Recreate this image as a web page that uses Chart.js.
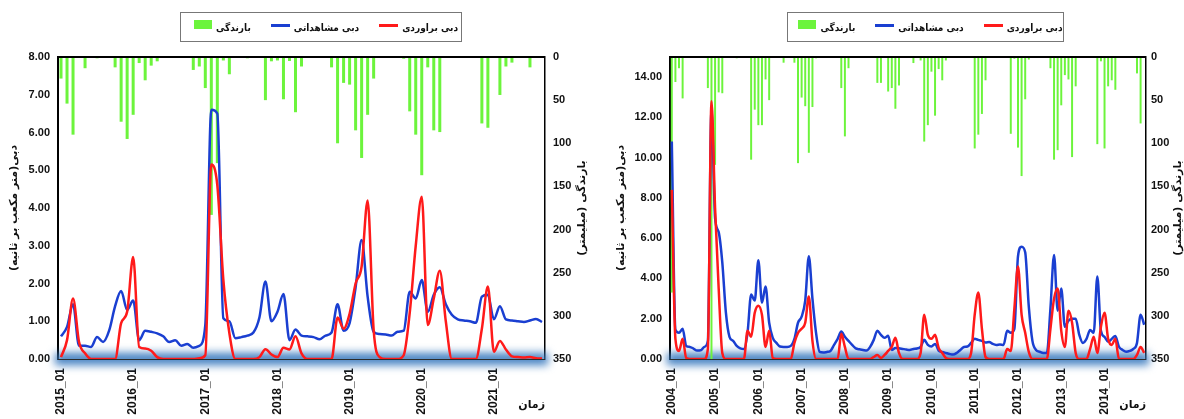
<!DOCTYPE html>
<html>
<head>
<meta charset="utf-8">
<script src="https://cdn.jsdelivr.net/npm/chart.js@4.4.1/dist/chart.umd.min.js"></script>
<style>
body{margin:0;background:#fff;width:1184px;height:419px;overflow:hidden;position:relative}
.panel{position:absolute;top:0;width:592px;height:419px}
.legend{position:absolute;top:12px;height:30px;border:1px solid #777;box-sizing:border-box;display:flex;align-items:center;justify-content:center;gap:20px;padding-left:10px;font:bold 10px 'DejaVu Sans Condensed','DejaVu Sans',sans-serif;font-stretch:condensed;color:#111;white-space:nowrap}
.item{display:flex;align-items:center;gap:4px}
.sw-bar{display:inline-block;width:18px;height:9px;margin-top:-6px}
.sw-line{display:inline-block;width:19px;height:3px;margin-top:-4px}
</style>
</head>
<body>
<div class="panel" style="left:0"><canvas id="chartA" width="592" height="419"></canvas><div class="legend" id="legendA" style="left:180px;width:282px"></div></div>
<div class="panel" style="left:592px"><canvas id="chartB" width="592" height="419"></canvas><div class="legend" id="legendB" style="left:195px;width:277px"></div></div>
<script>
// series
const seriesNames = ['بارندگی', 'دبی مشاهداتی', 'دبی براوردی'];
const seriesColors = ['#6cf43c', '#1a3fd1', '#ff1a1a'];
const flowTitle = 'دبی(متر مکعب بر ثانیه)';
const rainTitle = 'بارندگی (میلیمتر)';
const timeTitle = 'زمان';

// left panel: 2015_01 .. 2021_09
const startA = 2015;
const rainA = [25,54,90,0,13,0,1.5,0,0.5,12, 75,95,67,7,27,10,5,0,0,0.5,
  0,0,15,11,36,183,123,4,20,0, 0,1.5,0,0,50,5,4,49,4.6,64,
  11,0,0,0,0.5,12,100,30,32,85, 117,67,25,0,0.5,0.5,0,2,63,90,
  137,12,85,87,0.5,0,0.5,0,0,0, 77,82,0.5,44,11,6.5,0.5,0,12,0.5, 0];
const observedA = [0.6,0.85,1.45,0.35,0.35,0.32,0.58,0.45,0.75,1.4,
  1.8,1.3,1.55,0.5,0.75,0.72,0.68,0.6,0.45,0.5,
  0.35,0.4,0.3,0.35,0.9,6.6,6.5,1.08,1.0,0.55,
  0.58,0.62,0.7,1.1,2.05,1.0,1.25,1.72,0.5,0.78,
  0.62,0.6,0.58,0.52,0.62,0.7,1.45,0.75,0.95,1.9,
  3.15,1.65,0.72,0.66,0.65,0.62,0.72,0.75,1.78,1.6,
  2.09,1.25,1.7,1.9,1.45,1.17,1.05,1.02,1.0,0.96,
  1.65,1.7,1.05,1.4,1.05,1.02,1.0,0.98,1.02,1.06, 0.98];
const simulatedA = [0.05,0.5,1.6,0.45,0.15,0,0,0,0,0,
  0.95,1.25,2.7,0.32,0.28,0.22,0.05,0,0,0,
  0,0,0,0.02,0.1,5.15,4.6,2.1,0.69,0,
  0,0,0,0.05,0.26,0.12,0.05,0.3,0.25,0.6,
  0.15,0,0,0,0,0,1.1,0.8,1.2,2.0,
  2.45,4.2,0.77,0.05,0,0,0,0.1,1.22,3.0,
  4.3,0.9,1.6,2.34,1.0,0,0,0,0,0,
  0.8,1.92,0.19,0.48,0.25,0.07,0.05,0.04,0.05,0.02, 0.01];

// right panel: 2004_01 .. 2014_12
const startB = 2004;
const rainB = [273,29,13,48,1,1,1,1,0,0.5, 36,350,125,41,42,0,1,0,1.5,0,
  0,0,119,61,79,79,26,50,0,0, 0,6.6,0,0,6.6,123,47,57,111,58,
  1.5,0,1,0,0,0,0,36,92,13, 0,1,0,0,0,0,0,30,30,1,
  40,36,60,33,0,0,0,7,0,4, 98,79,17,68,14,27,4,0,0,1,
  0,0,0,0,106,90,66,27,0,0, 1,0,0,0,89,2,105,138,49,3,
  0,0,0,1,0,13,119,108,56,21, 26,116,34,0,0,1,0,0,101,5,
  106,34,27,38,1,0,0,0,0,19, 77,0];
const observedB = [10.8,1.45,1.3,1.5,0.65,0.6,0.52,0.42,0.43,0.6,
  0.9,12.4,7.0,6.3,4.8,2.3,1.1,0.9,0.65,0.53,
  0.5,1.3,3.2,2.9,4.9,2.8,3.6,1.8,1.05,0.8,
  0.62,0.6,0.6,0.65,1.0,1.8,2.1,2.9,5.1,3.0,
  1.3,0.35,0.32,0.35,0.4,0.7,1.0,1.36,1.1,0.9,
  0.7,0.53,0.48,0.45,0.42,0.6,0.95,1.4,1.2,1.05,
  1.15,0.45,0.55,0.53,0.5,0.47,0.45,0.5,0.52,0.6,
  0.95,0.7,0.62,0.75,0.42,0.35,0.3,0.25,0.22,0.3,
  0.45,0.6,0.62,0.8,1.0,0.95,0.9,0.82,0.85,0.75,
  0.7,0.72,0.7,1.4,1.3,1.5,5.1,5.58,5.3,2.6,
  0.9,0.45,0.36,0.3,0.3,2.5,5.17,2.4,3.5,1.6,
  1.9,2.0,2.0,1.2,0.8,1.0,1.44,1.3,4.1,1.4,
  1.1,0.86,1.0,1.14,0.61,0.45,0.36,0.4,0.5,0.8, 2.2,1.7];
const simulatedB = [8.4,1.0,0.4,1.0,0.05,0,0,0,0,0,
  0.5,12.8,7.5,3.5,0.3,0,0,0,0,0,
  0,1.4,1.1,2.3,2.65,2.2,0.6,1.4,0.05,0,
  0,0,0,0,0.8,1.3,1.5,1.8,3.1,0.9,
  0,0,0,0,0,0,0,1.25,0.6,0,
  0,0,0,0,0,0,0.1,0.2,0.05,0.2,
  0.4,0.6,1.05,0.3,0,0,0,0,0,0.3,
  2.2,1.2,1.0,1.2,0.55,0.3,0.05,0,0,0,
  0,0,0,0.3,2.2,3.3,1.5,0.1,0,0,
  0,0,0,0.5,0.4,2.5,4.6,2.2,1.3,0.35,
  0,0,0,0,0,1.5,3.0,3.5,1.4,0.6,
  2.4,1.8,0.3,0,0,0,0.5,1.1,0.3,1.6,
  2.3,1.0,0.7,1.0,0,0,0,0,0,0.2, 0.6,0.3];

const FONT_NUM = "'Liberation Sans Narrow', 'Liberation Sans', Arial, sans-serif";
const FONT_LBL = "'Liberation Sans', Arial, sans-serif";
const FONT_FA = "'DejaVu Sans', sans-serif";

function monthLabels(startYear, count) {
  const out = [];
  for (let i = 0; i < count; i++) {
    const y = startYear + Math.floor(i / 12);
    out.push(y + '_' + String(i % 12 + 1).padStart(2, '0'));
  }
  return out;
}

// glow under the time axis, frame lines and the rotated rain title
const panelDecor = {
  id: 'panelDecor',
  beforeDatasetsDraw(chart) {
    const {ctx, chartArea: a} = chart;
    ctx.save();
    ctx.filter = 'blur(4px)';
    ctx.fillStyle = 'rgba(55,120,190,0.95)';
    ctx.fillRect(a.left - 3, a.bottom - 6, a.right - a.left + 6, 12);
    ctx.restore();
    ctx.save();
    ctx.strokeStyle = '#2b2b2b';
    ctx.lineWidth = 1;
    ctx.beginPath();
    ctx.moveTo(a.left, a.bottom + 0.5);
    ctx.lineTo(a.right, a.bottom + 0.5);
    ctx.stroke();
    ctx.restore();
  },
  afterDatasetsDraw(chart) {
    const {ctx, chartArea: a} = chart;
    ctx.save();
    ctx.strokeStyle = '#000';
    ctx.lineWidth = 2;
    ctx.beginPath();
    ctx.moveTo(a.left, a.top);
    ctx.lineTo(a.right, a.top);
    ctx.stroke();
    ctx.restore();
  },
  afterDraw(chart, args, opts) {
    const {ctx, chartArea: a} = chart;
    ctx.save();
    ctx.translate(chart.scales.y1.right - opts.inset, (a.top + a.bottom) / 2);
    ctx.rotate(-Math.PI / 2);
    ctx.font = 'bold 11px ' + FONT_FA;
    ctx.fillStyle = '#111';
    ctx.textAlign = 'center';
    ctx.textBaseline = 'middle';
    ctx.fillText(opts.text, 0, 0);
    ctx.restore();
  }
};

function buildLegend(id) {
  const box = document.getElementById(id);
  seriesNames.forEach(function (name, i) {
    const item = document.createElement('div');
    item.className = 'item';
    const sw = document.createElement('span');
    sw.className = i === 0 ? 'sw-bar' : 'sw-line';
    sw.style.background = seriesColors[i];
    const tx = document.createElement('span');
    tx.textContent = name;
    item.append(sw, tx);
    box.append(item);
  });
}

function buildChart(id, labels, rain, observed, simulated, p) {
  const numFont = {family: FONT_NUM, size: 11, weight: 'bold'};
  const noGrid = {display: false, drawTicks: false, tickLength: 0};
  return new Chart(document.getElementById(id), {
    type: 'bar',
    data: {
      labels: labels,
      datasets: [
        {type: 'bar', label: seriesNames[0], data: rain, yAxisID: 'y1',
         backgroundColor: seriesColors[0], barPercentage: p.barPct, categoryPercentage: 1, order: 3},
        {type: 'line', label: seriesNames[1], data: observed, yAxisID: 'y',
         borderColor: seriesColors[1], borderWidth: 2.5, pointRadius: 0,
         cubicInterpolationMode: 'monotone', order: 2},
        {type: 'line', label: seriesNames[2], data: simulated, yAxisID: 'y',
         borderColor: seriesColors[2], borderWidth: 2.5, pointRadius: 0,
         cubicInterpolationMode: 'monotone', order: 1}
      ]
    },
    options: {
      responsive: false,
      animation: false,
      layout: {padding: {top: 57, left: 0, right: 0, bottom: 0}},
      plugins: {
        legend: {display: false},
        tooltip: {enabled: false},
        panelDecor: {text: rainTitle, inset: p.rainTitleInset}
      },
      scales: {
        x: {
          offset: true,
          grid: noGrid,
          border: {display: false},
          ticks: {
            autoSkip: false, minRotation: 90, maxRotation: 90, padding: 9,
            color: '#111', font: {family: FONT_LBL, size: 12, weight: 'bold'},
            callback: function (v) {
              const l = this.getLabelForValue(v);
              return l.endsWith('_01') ? l : '';
            }
          },
          title: {display: true, text: timeTitle, align: 'end', color: '#111',
                  font: {family: FONT_FA, size: 11, weight: 'bold'}, padding: {top: 0, bottom: 7}},
          afterFit: function (s) { s.height = 60; }
        },
        y: {
          position: 'left',
          min: 0, max: p.flowMax,
          grid: noGrid,
          border: {color: '#000', width: 2},
          ticks: {stepSize: p.flowStep, padding: 8, color: '#111', font: numFont,
                  callback: function (v) { return v.toFixed(2); }},
          afterBuildTicks: function (s) { s.ticks = s.ticks.filter(function (t) { return t.value <= p.flowTop + 1e-6; }); },
          title: {display: true, text: flowTitle, color: '#111',
                  font: {family: FONT_FA, size: 11, weight: 'bold'}, padding: {top: p.flowTitlePad, bottom: 0}},
          afterFit: function (s) { s.width = p.leftW; }
        },
        y1: {
          type: 'linear',
          position: 'right',
          reverse: true,
          min: 0, max: 350,
          grid: noGrid,
          border: {color: '#000', width: 1.5},
          ticks: {stepSize: 50, padding: p.rainPad, color: '#111', font: numFont},
          afterFit: function (s) { s.width = p.rightW; }
        }
      }
    },
    plugins: [panelDecor]
  });
}

buildLegend('legendA');
buildLegend('legendB');

buildChart('chartA', monthLabels(startA, rainA.length), rainA, observedA, simulatedA,
  {flowMax: 8, flowStep: 1, flowTop: 8, leftW: 58, rightW: 47, flowTitlePad: 8,
   rainPad: 8, rainTitleInset: 10, barPct: 0.5});

buildChart('chartB', monthLabels(startB, rainB.length), rainB, observedB, simulatedB,
  {flowMax: 15, flowStep: 2, flowTop: 14, leftW: 78, rightW: 38, flowTitlePad: 23,
   rainPad: 5, rainTitleInset: 6, barPct: 0.55});
</script>
</body>
</html>
